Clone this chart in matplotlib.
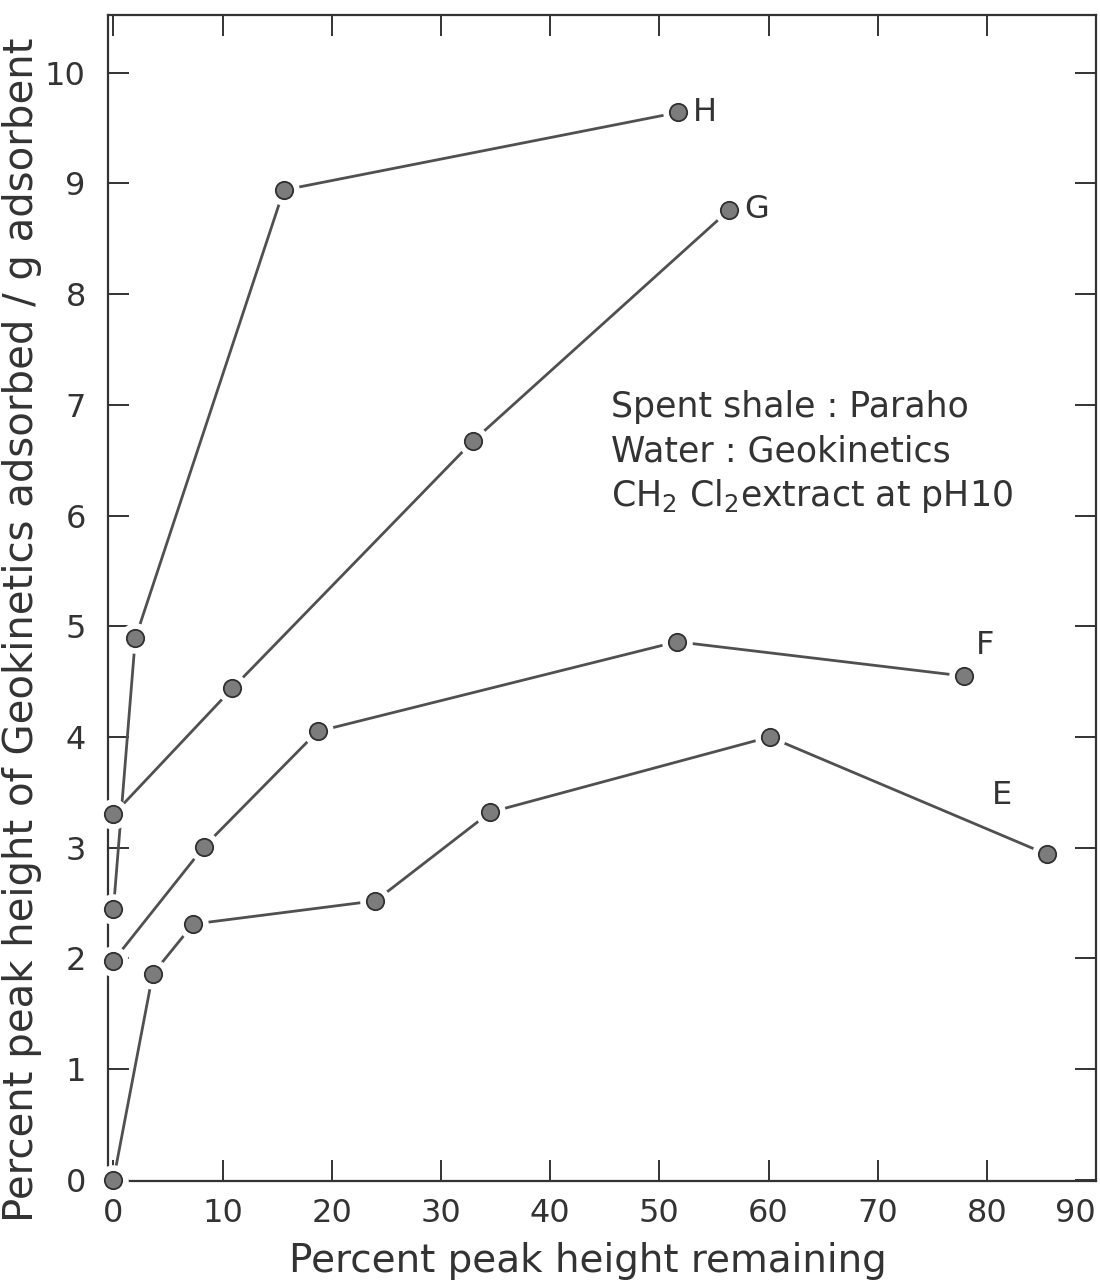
import numpy as np
import matplotlib
matplotlib.use("Agg")
import matplotlib.pyplot as plt

plt.rcParams['font.family'] = ['DejaVu Sans']
plt.rcParams['mathtext.fontset'] = 'dejavusans'

# curves (x = % peak height remaining, y = % adsorbed / g)
e_x = [0, 3.6, 7.3, 24.0, 34.5, 60.1, 85.5]
e_y = [0, 1.86, 2.31, 2.52, 3.32, 4.0, 2.94]
f_x = [0, 8.3, 18.7, 51.6, 77.9]
f_y = [1.98, 3.01, 4.05, 4.86, 4.55]
g_x = [0, 10.9, 32.9, 56.4]
g_y = [3.30, 4.44, 6.67, 8.76]
h_x = [0, 2.0, 15.6, 51.7]
h_y = [2.45, 4.89, 8.94, 9.64]

curve_names = ['E', 'F', 'G', 'H']
label_pos = {'H': (53.1, 9.64), 'G': (57.8, 8.76), 'F': (79.0, 4.83), 'E': (80.5, 3.47)}

x_ticks = [0, 10, 20, 30, 40, 50, 60, 70, 80, 90]
y_ticks = [0, 1, 2, 3, 4, 5, 6, 7, 8, 9, 10]

ink = '#333333'
line_col = '#505050'

fig = plt.figure(figsize=(11, 12.87), dpi=100)
ax = fig.add_axes([0.0982, 0.0824, 0.8982, 0.9059])

curves = [(e_x, e_y), (f_x, f_y), (g_x, g_y), (h_x, h_y)]
for xs, ys in curves:
    ax.plot(xs, ys, color=line_col, lw=2.0, zorder=2, clip_on=False)
# white halo so that lines (and spines) stop short of the dots
for xs, ys in curves:
    ax.plot(xs, ys, 'o', ms=22, mfc='white', mec='none', zorder=3, clip_on=False)
for xs, ys in curves:
    ax.plot(xs, ys, 'o', ms=12.5, mfc='#7c7c7c', mec='#303030', mew=1.3,
            zorder=4, clip_on=False)

for name in curve_names:
    lx, ly = label_pos[name]
    ax.text(lx, ly, name, fontsize=23, color=ink, ha='left', va='center')

ax.text(45.6, 6.89, "Spent shale : Paraho", fontsize=25, color=ink, va='baseline')
ax.text(45.6, 6.49, "Water : Geokinetics", fontsize=25, color=ink, va='baseline')
ax.text(45.6, 6.09, "CH$_2$ Cl$_2$extract at pH10", fontsize=25, color=ink, va='baseline')

ax.set_xlim(-0.5, 90)
ax.set_ylim(-0.01, 10.52)
ax.set_xticks(x_ticks)
ax.set_yticks(y_ticks)
ax.tick_params(axis='both', direction='in', length=15, width=1.4, color=ink,
               top=True, right=True, labelsize=23, labelcolor=ink)
ax.tick_params(axis='x', pad=12)
ax.tick_params(axis='y', pad=16)
ax.get_xticklabels()[-1].set_horizontalalignment('right')
for sp in ax.spines.values():
    sp.set_color(ink)
    sp.set_linewidth(1.6)

fig.text(0.02, 0.5105, "Percent peak height of Geokinetics adsorbed / g adsorbent",
         rotation=90, fontsize=29, color=ink, ha='center', va='center')
fig.text(0.534, 0.0117, "Percent peak height remaining", fontsize=28, color=ink,
         ha='center', va='baseline')

fig.savefig('out.png', dpi=100)
